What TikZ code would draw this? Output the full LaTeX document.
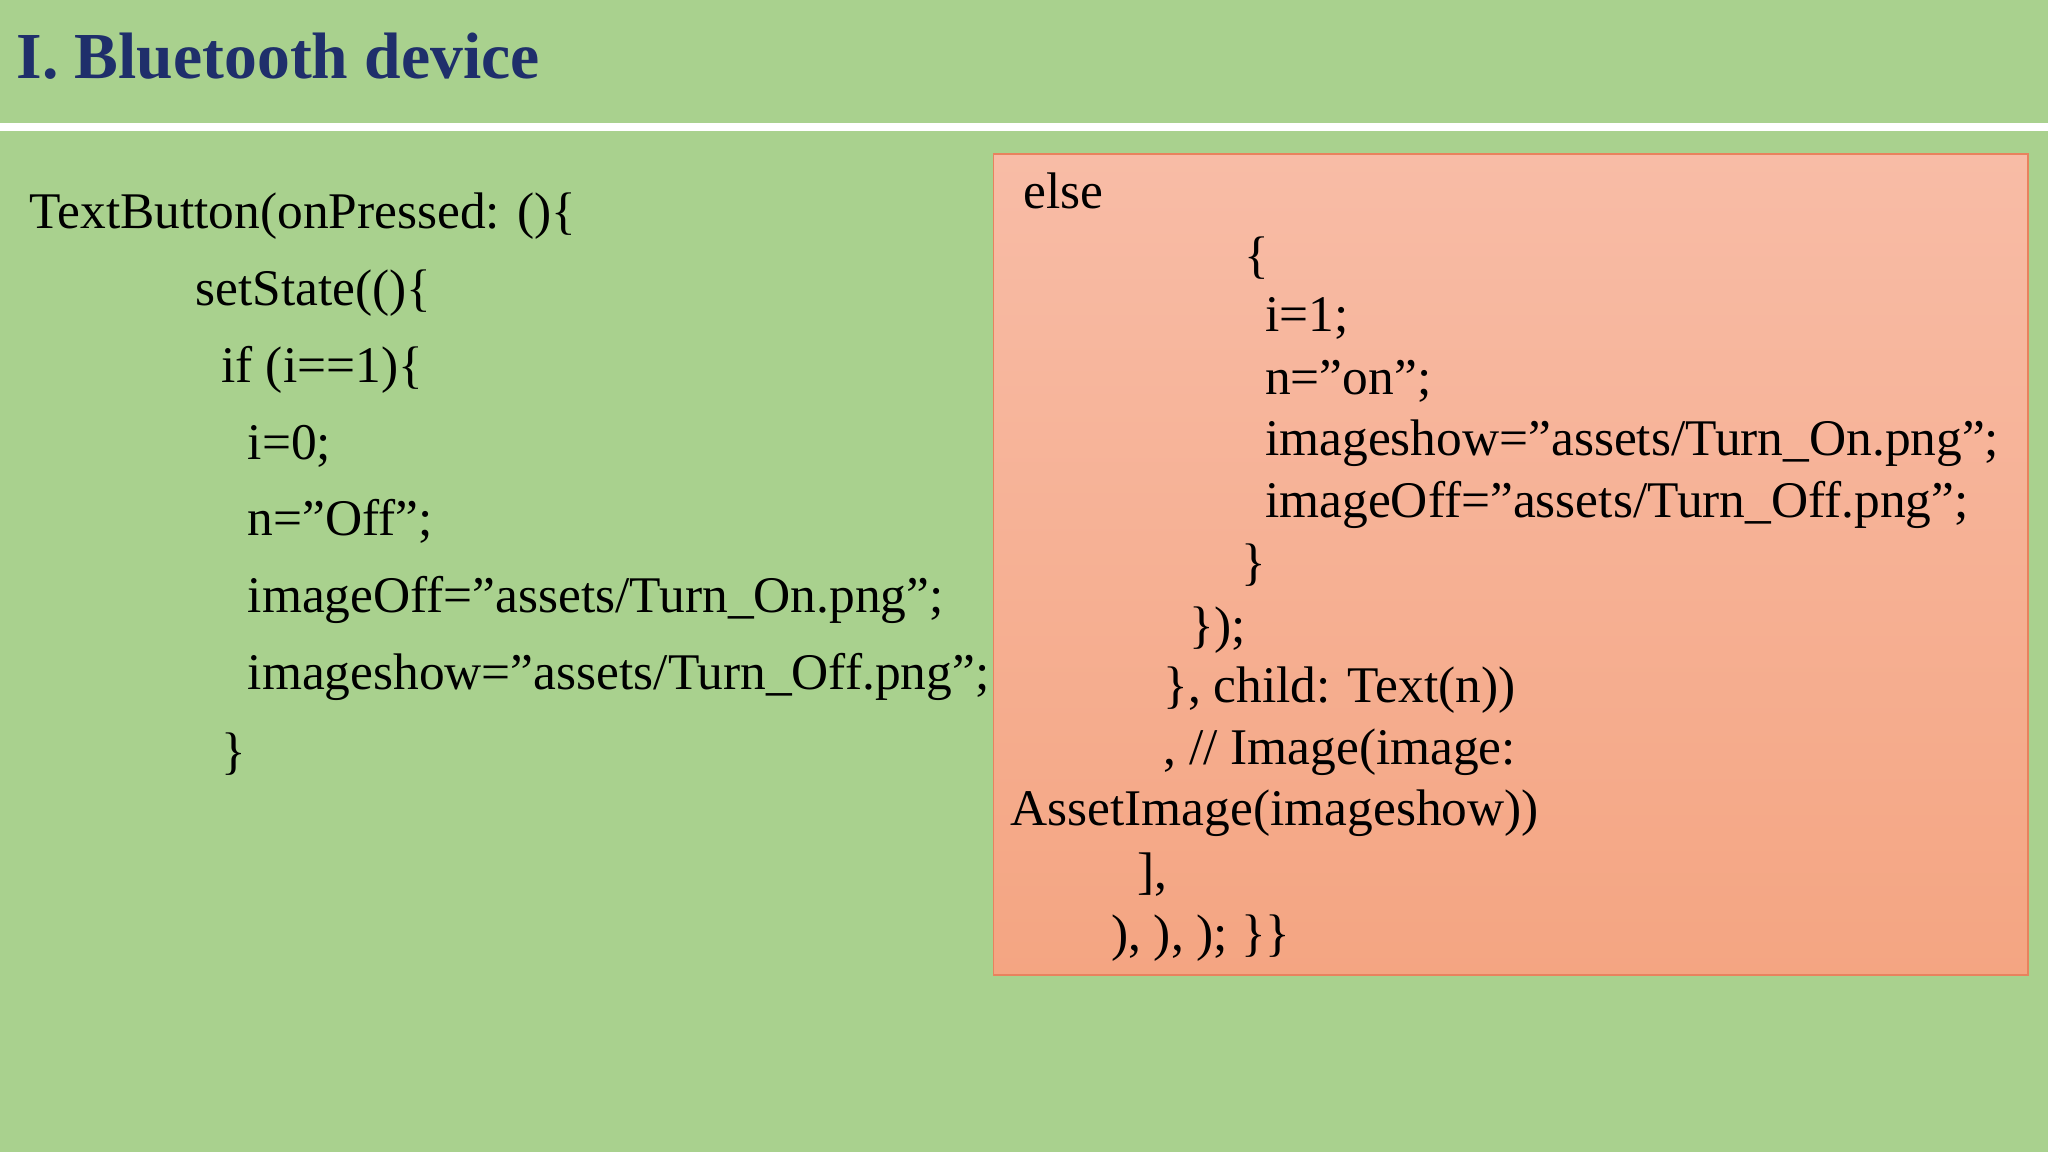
\documentclass[tikz,border=0pt]{standalone}
\usepackage{fontspec}
\setmainfont{Liberation Serif}
\begin{document}
\begin{tikzpicture}[x=0.1mm,y=-0.1mm]
\definecolor{bg}{HTML}{A9D18E}
\definecolor{navy}{HTML}{1F2F6B}
\definecolor{boxtop}{HTML}{F8BCA6}
\definecolor{boxbot}{HTML}{F4A582}
\definecolor{boxline}{HTML}{E8825E}
\tikzset{code/.style={anchor=base west,inner sep=0pt,font=\fontsize{11.2}{13}\selectfont,text=black}}
\fill[bg] (0,0) rectangle (1568,882);
\useasboundingbox (0,0) rectangle (1568,882);
\fill[white] (0,94) rectangle (1568,100);
\node[anchor=base west,inner sep=0pt,text=navy,font=\fontsize{14.3}{16}\selectfont\bfseries] (title) at (12,60) {I. Bluetooth device};
\node[draw=boxline,line width=0.4pt,top color=boxtop,bottom color=boxbot,minimum width=792*0.1mm,minimum height=629*0.1mm,anchor=north west,inner sep=0pt] (box) at (760,117) {};
% left code
\node[code] (l1) at (22,175) {TextButton(onPressed: ()\{};
\node[code] (l2) at (149,234) {setState(()\{};
\node[code] (l3) at (169,293) {if (i==1)\{};
\node[code] (l4) at (189,352) {i=0;};
\node[code] (l5) at (189,410) {n="Off";};
\node[code] (l6) at (189,469) {imageOff="assets/Turn\_On.png";};
\node[code] (l7) at (189,528) {imageshow="assets/Turn\_Off.png";};
\node[code] (l8) at (169,588) {\}};
% right code
\node[code] (r1) at (783,160) {else};
\node[code] (r2) at (952,209) {\{};
\node[code] (r3) at (968,254) {i=1;};
\node[code] (r4) at (968,302) {n="on";};
\node[code] (r5) at (968,349) {imageshow="assets/Turn\_On.png";};
\node[code] (r6) at (968,396) {imageOff="assets/Turn\_Off.png";};
\node[code] (r7) at (950,444) {\}};
\node[code] (r8) at (910,492) {\});};
\node[code] (r9) at (890,538) {\}, child: Text(n))};
\node[code] (r10) at (890,585) {, // Image(image:};
\node[code] (r11) at (773,632) {AssetImage(imageshow))};
\node[code] (r12) at (870,680) {],};
\node[code] (r13) at (850,728) {), ), ); \}\}};
\end{tikzpicture}
\end{document}
